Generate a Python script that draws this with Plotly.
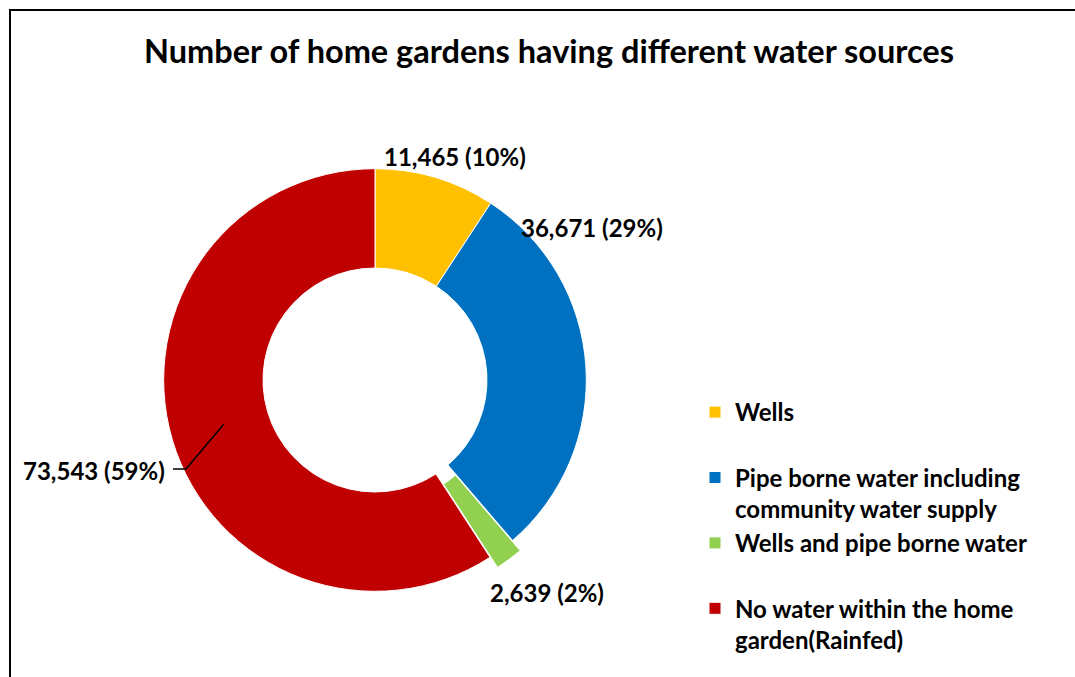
import plotly.graph_objects as go

# ---- data ----
sources = [
    "Wells<br> ",
    "Pipe borne water including<br>community water supply",
    "Wells and pipe borne water<br> ",
    "No water within the home<br>garden(Rainfed)",
]
gardens = [11465, 36671, 2639, 73543]
pct_labels = ["10%", "29%", "2%", "59%"]
colors = ["#FFC000", "#0070C0", "#92D050", "#C00000"]
pulls = [0, 0, 0.06, 0]

W, H = 1075, 677
FONT = "Lato, 'Open Sans', sans-serif"


def px(x):
    return x / W


def py(y):
    return 1 - y / H


fig = go.Figure()
fig.add_trace(go.Pie(
    labels=[f"<b>{s}</b>" for s in sources],
    values=gardens,
    marker=dict(colors=colors, line=dict(color="white", width=1)),
    hole=0.53,
    sort=False,
    direction="clockwise",
    rotation=0,
    pull=pulls,
    textinfo="none",
    hoverinfo="label+value",
    domain=dict(x=[px(375 - 224), px(375 + 224)], y=[py(380 + 224), py(380 - 224)]),
    showlegend=True,
))

# data labels (text from data)
label_pos = [(455, 156), (592, 227), (547, 592), (94, 470)]
for v, p, (lx, ly) in zip(gardens, pct_labels, label_pos):
    fig.add_annotation(
        x=px(lx), y=py(ly), xref="paper", yref="paper",
        text=f"<b>{v:,} ({p})</b>", showarrow=False,
        font=dict(family=FONT, size=24, color="#000000"),
        xanchor="center", yanchor="middle",
    )

# leader line for the large slice label
fig.add_shape(type="path", xref="paper", yref="paper",
              path=f"M {px(173)},{py(469)} L {px(186)},{py(469)} L {px(224)},{py(424)}",
              line=dict(color="#000000", width=1.5))

# outer frame
fig.add_shape(type="rect", xref="paper", yref="paper",
              x0=px(10), y0=-0.05, x1=1.05, y1=py(10),
              line=dict(color="#000000", width=2), fillcolor="rgba(0,0,0,0)")

fig.update_layout(
    width=W, height=H,
    margin=dict(l=0, r=0, t=0, b=0),
    paper_bgcolor="white", plot_bgcolor="white",
    title=dict(text="<b>Number of home gardens having different water sources</b>",
               x=px(549), xanchor="center", y=py(52), yanchor="middle",
               font=dict(family=FONT, size=32.5, color="#000000")),
    legend=dict(x=px(695), xanchor="left", y=py(390), yanchor="top",
                valign="top", font=dict(family=FONT, size=24, color="#000000"),
                bgcolor="rgba(0,0,0,0)", traceorder="normal"),
    font=dict(family=FONT, color="#000000"),
)

fig.write_html(
    "out.html",
    config={"displayModeBar": False},
    post_script="document.body.style.margin='0';document.body.style.overflow='hidden';",
)
